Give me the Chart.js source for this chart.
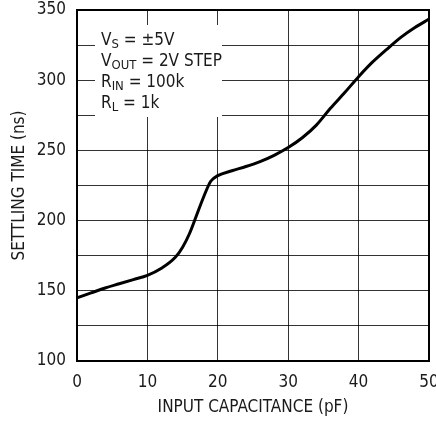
<!DOCTYPE html>
<html><head><meta charset="utf-8">
<script src="https://cdn.jsdelivr.net/npm/chart.js@4"></script>
<style>html,body{margin:0;padding:0;overflow:hidden;background:#fff}</style>
</head><body>
<canvas id="c" width="436" height="421" style="display:block;width:436px;height:421px"></canvas>
<script>
// ---- data ----
const capacitance = [0,2,4,6,8,10,12,14,15,16,17,18,19,20,22,24,26,28,30,32,34,36,38,40,42,44,46,48,50];
const settlingTime = [145,148.5,152,155,158,161,166,174,181,191,204,217,228,232,235.5,238.5,242,246.5,252,259,268,280,291,302.5,313,322,330.5,337.5,343.5];
const yLabelValues = [100,150,200,250,300,350];
const xTitle = 'INPUT CAPACITANCE (pF)';
const yTitle = 'SETTLING TIME (ns)';
const conditionLines = [
  [['V',0],['S',1],[' = \u00B15V',0]],
  [['V',0],['OUT',1],[' = 2V STEP',0]],
  [['R',0],['IN',1],[' = 100k',0]],
  [['R',0],['L',1],[' = 1k',0]]
];

const FONT = "'Liberation Sans Narrow','Arial Narrow','DejaVu Sans Condensed',sans-serif";
const TEXT = '#1a1a1a';
Chart.defaults.font.family = FONT;
Chart.defaults.color = TEXT;

const notePlugin = {
  id: 'note',
  beforeDatasetsDraw(chart) {
    const {ctx, chartArea: a} = chart;
    ctx.save();
    ctx.fillStyle = '#fff';
    ctx.fillRect(a.left + 18, a.top + 15, 127, 92);
    ctx.strokeStyle = '#000';
    ctx.lineWidth = 2;
    ctx.strokeRect(a.left, a.top, a.right - a.left, a.bottom - a.top);
    ctx.restore();
  },
  afterDatasetsDraw(chart) {
    const {ctx, chartArea: a} = chart;
    ctx.save();
    ctx.fillStyle = TEXT;
    ctx.textBaseline = 'alphabetic';
    conditionLines.forEach((line, i) => {
      let x = a.left + 24;
      const y = a.top + 35 + i * 21;
      line.forEach(([t, sub]) => {
        ctx.font = sub ? `13px ${FONT}` : `17px ${FONT}`;
        ctx.fillText(t, x, sub ? y + 3 : y);
        x += ctx.measureText(t).width;
      });
    });
    ctx.restore();
  }
};

const gridColor = 'rgba(0,0,0,0.8)';
new Chart(document.getElementById('c'), {
  type: 'line',
  data: {
    datasets: [{
      data: capacitance.map((x, i) => ({x, y: settlingTime[i]})),
      borderColor: '#000',
      borderWidth: 3,
      pointRadius: 0,
      cubicInterpolationMode: 'monotone',
      fill: false
    }]
  },
  options: {
    responsive: false,
    animation: false,
    events: [],
    plugins: {legend: {display: false}, tooltip: {enabled: false}},
    layout: {padding: 0},
    scales: {
      x: {
        type: 'linear', min: 0, max: 50,
        grid: {color: gridColor, lineWidth: 1, drawTicks: false},
        border: {display: false},
        ticks: {stepSize: 10, padding: 11, font: {size: 17}, color: TEXT, maxRotation: 0},
        title: {display: true, text: xTitle, font: {size: 17}, color: TEXT, padding: {top: 0, bottom: 3}},
        afterFit(s) { s.height = 60; s.paddingRight = 7; s.paddingLeft = 0; }
      },
      y: {
        type: 'linear', min: 100, max: 350,
        grid: {color: gridColor, lineWidth: 1, drawTicks: false},
        border: {display: false},
        ticks: {stepSize: 25, padding: 11, font: {size: 17}, color: TEXT,
          callback: v => yLabelValues.includes(v) ? String(v) : ''},
        title: {display: true, text: yTitle, font: {size: 17}, color: TEXT, padding: {top: 9, bottom: 0}},
        afterFit(s) { s.width = 77; s.paddingTop = 10; s.paddingBottom = 0; }
      }
    }
  },
  plugins: [notePlugin]
});
</script>
</body></html>
